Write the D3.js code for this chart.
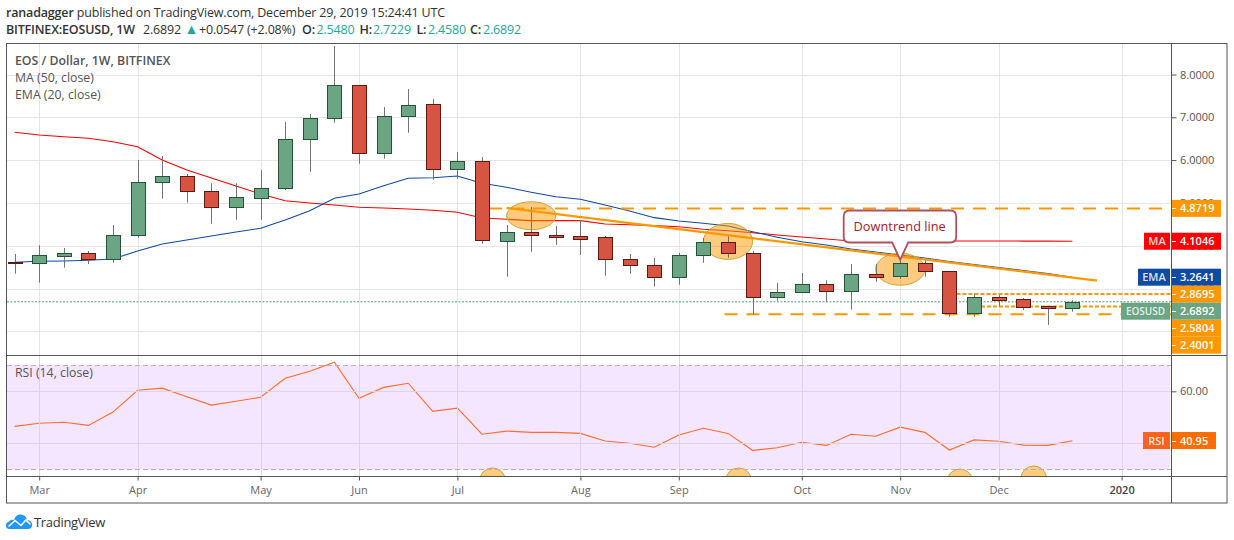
<!DOCTYPE html>
<html><head><meta charset="utf-8">
<script src="https://cdn.jsdelivr.net/npm/d3@7"></script>
<style>
html,body{margin:0;padding:0;background:#fff}
svg{display:block;font-family:"Open Sans",sans-serif}
</style></head><body><svg id="c" width="1234" height="540"></svg>
<script>
// ---------- data ----------
const firstWeek = "2019-02-25", lastWeek = "2019-12-23";
const opens  = [3.613,3.59,3.77,3.823,3.683,4.243,5.482,5.622,5.272,4.898,5.108,5.342,6.486,6.977,7.748,6.159,7.024,7.304,5.785,5.972,4.094,4.31,4.25,4.22,4.197,3.683,3.542,3.262,3.77,4.08,3.823,2.785,2.912,3.099,2.935,3.34,3.276,3.589,3.402,2.412,2.802,2.748,2.58,2.548];
const highs  = [3.807,4.01,3.947,3.877,4.484,6.003,6.096,5.676,5.458,5.458,5.769,6.891,7.077,8.666,7.748,7.241,7.662,7.428,6.19,6.073,4.484,4.905,4.461,4.601,4.227,3.807,3.713,3.83,4.18,4.25,3.877,3.129,3.363,3.192,3.573,3.573,3.69,3.666,3.41,2.879,2.849,2.778,2.59,2.7229];
const lows   = [3.346,3.136,3.486,3.573,3.603,4.187,5.099,5.005,4.514,4.608,4.608,5.302,5.729,6.874,5.916,6.033,6.64,5.542,5.566,4.047,3.276,3.86,4.017,3.783,3.3,3.346,3.043,3.089,3.603,3.72,2.388,2.715,2.902,2.678,2.505,3.159,3.222,3.276,2.342,2.342,2.575,2.498,2.148,2.458];
const closes = [3.596,3.776,3.83,3.673,4.243,5.482,5.622,5.272,4.898,5.131,5.342,6.486,6.977,7.748,6.159,7.024,7.281,5.785,5.972,4.127,4.314,4.25,4.2,4.16,3.683,3.542,3.262,3.776,4.08,3.814,2.785,2.912,3.099,2.935,3.332,3.28,3.589,3.393,2.412,2.795,2.732,2.552,2.53,2.6892];
const maValues  = [6.65,6.587,6.547,6.51,6.43,6.314,6.003,5.769,5.582,5.395,5.208,5.052,4.998,4.951,4.898,4.881,4.858,4.828,4.781,4.648,4.617,4.585,4.585,4.585,4.507,4.491,4.468,4.444,4.384,4.351,4.304,4.25,4.204,4.157,4.11,4.11,4.11,4.11,4.11,4.11,4.11,4.108,4.106,4.1046];
const emaValues = [3.613,3.636,3.643,3.659,3.69,3.877,4.04,4.134,4.227,4.321,4.407,4.601,4.818,5.108,5.208,5.402,5.575,5.589,5.629,5.458,5.365,5.248,5.145,5.085,4.951,4.811,4.655,4.577,4.524,4.461,4.328,4.197,4.094,4.017,3.923,3.853,3.783,3.713,3.631,3.561,3.491,3.421,3.351,3.2641];
const rsiValues = [46.5,47.7,48.1,46.9,52,60.4,61.2,57.9,54.7,56.2,57.7,65,67.7,71.2,57.3,61.5,63.1,52.3,53.5,43.5,44.7,44.2,44.2,43.8,40.9,40,38.5,43.2,45.8,43.8,37.3,38.3,40.4,39.2,43.5,42.7,46.2,44.2,37.4,41.3,40.8,39.3,39.2,40.95];
const monthDates  = ["2019-03-04","2019-04-01","2019-05-06","2019-06-03","2019-07-01","2019-08-05","2019-09-02","2019-10-07","2019-11-04","2019-12-02","2020-01-06"];
const monthLabels = ["Mar","Apr","May","Jun","Jul","Aug","Sep","Oct","Nov","Dec","2020"];
const priceTicks = [8,7,6,5,4,3,2];
const rsiTicks = [60,40];
const rsiBand = [70,30];
const trendDates = ["2019-07-15","2019-12-30"], trendPrices = [4.881,3.183];
const levelPrices = [4.8719,2.8695,2.5804,2.4001];
const levelStarts = ["2019-07-10","2019-11-20","2019-11-27","2019-09-15"];
const lastClose = 2.6892, lastMA = 4.1046, lastEMA = 3.2641, lastRSI = 40.95;
const ellipseDates = ["2019-07-22","2019-09-16","2019-11-04"];
const ellipsePrices = [4.70,4.10,3.45];
const rsiCircleDates = ["2019-07-11","2019-09-19","2019-11-21","2019-12-12"];

// ---------- layout & scales ----------
const parse = d3.utcParse("%Y-%m-%d");
const weeks = d3.utcMonday.range(parse(firstWeek), d3.utcDay.offset(parse(lastWeek),1));
const L=7,R=1171,T=44,MB=355,RB=476,FR=1227,FB=503;
const x = d3.scaleUtc().domain([parse(firstWeek),parse(lastWeek)]).range([14.6,1072.4]);
const y = d3.scaleLinear().domain([2,8]).range([331.3,74.5]);
const yr = d3.scaleLinear().domain([30,70]).range([469.3,365.3]);
const px = v=>Math.round(v)+.5;
const svg = d3.select("#c");
const defs = svg.append("defs");
defs.append("clipPath").attr("id","main").append("rect").attr("x",L).attr("y",T).attr("width",R-L).attr("height",MB-T);
defs.append("clipPath").attr("id","rsi").append("rect").attr("x",L).attr("y",MB+1).attr("width",R-L).attr("height",RB-MB-1);

const GRID="#e6e6e6",GRIDR="#dfd3ea",AX="#555",TXT="#555";
const ORANGE="#ff9800",UP="#6ba583",DOWN="#d75442",UPB="#225437",DOWNB="#5b1a13";
const months = monthDates.map(parse);

// RSI band
const gr = svg.append("g").attr("clip-path","url(#rsi)");
gr.append("rect").attr("x",L).attr("y",yr(70)).attr("width",R-L-1).attr("height",yr(30)-yr(70)).attr("fill","#f4e6fe");

// grids
const grid = svg.append("g");
grid.selectAll("line.v").data(months).join("line").attr("x1",d=>px(x(d))).attr("x2",d=>px(x(d))).attr("y1",T).attr("y2",MB).attr("stroke",GRID);
grid.selectAll("line.vr").data(months).join("line").attr("class","vr").attr("x1",d=>px(x(d))).attr("x2",d=>px(x(d))).attr("y1",MB+1).attr("y2",RB)
  .attr("stroke",d=>x(d)>1100?"#e0d8e8":GRIDR);
grid.selectAll("line.h").data(priceTicks).join("line").attr("class","h").attr("x1",L).attr("x2",R).attr("y1",d=>px(y(d))).attr("y2",d=>px(y(d))).attr("stroke",GRID);
grid.selectAll("line.hr").data(rsiTicks).join("line").attr("class","hr").attr("x1",L).attr("x2",R).attr("y1",d=>px(yr(d))).attr("y2",d=>px(yr(d))).attr("stroke",GRIDR);
grid.selectAll("line.b").data(rsiBand).join("line").attr("class","b").attr("x1",L).attr("x2",R).attr("y1",d=>px(yr(d))).attr("y2",d=>px(yr(d))).attr("stroke","#b9aec2").attr("stroke-dasharray","5 3");

// main pane
const m = svg.append("g").attr("clip-path","url(#main)");
const lineOf = vals => d3.line().x((d,i)=>x(weeks[i])).y(d=>y(d))(vals);
m.append("path").attr("d",lineOf(maValues)).attr("fill","none").attr("stroke","#ff0000").attr("stroke-width",1.1);
m.append("path").attr("d",lineOf(emaValues)).attr("fill","none").attr("stroke","#0f4aa3").attr("stroke-width",1.1);

// highlight ellipses
m.selectAll("ellipse").data(ellipseDates).join("ellipse")
  .attr("cx",d=>x(parse(d))).attr("cy",(d,i)=>y(ellipsePrices[i]))
  .attr("rx",24.6).attr("ry",(d,i)=>[14,18,16][i])
  .attr("fill","rgba(255,152,0,.5)").attr("stroke","#c8a93c").attr("stroke-width",1);

// levels
const dash=["13 9","4 2","4 2","13 9"];
m.selectAll("line.lv").data(levelPrices).join("line").attr("class","lv")
  .attr("x1",(d,i)=>x(parse(levelStarts[i]))).attr("x2",R)
  .attr("y1",d=>y(d)).attr("y2",d=>y(d)).attr("stroke",ORANGE).attr("stroke-width",2).attr("stroke-dasharray",(d,i)=>dash[i]);
// last price
m.append("line").attr("x1",L).attr("x2",R).attr("y1",y(lastClose)).attr("y2",y(lastClose)).attr("stroke","#4f9e78").attr("stroke-dasharray","2 1.5");

// candles
const idx = d3.range(weeks.length);
m.selectAll("line.w").data(idx).join("line").attr("class","w")
  .attr("x1",i=>px(x(weeks[i]))).attr("x2",i=>px(x(weeks[i]))).attr("y1",i=>y(highs[i])).attr("y2",i=>y(lows[i])).attr("stroke","#737375");
m.selectAll("rect.b").data(idx).join("rect").attr("class","b")
  .attr("x",i=>Math.round(x(weeks[i]))-6.5).attr("width",14)
  .attr("y",i=>Math.round(y(Math.max(opens[i],closes[i])))+.5)
  .attr("height",i=>Math.max(1,Math.round(Math.abs(y(opens[i])-y(closes[i])))))
  .attr("fill",i=>closes[i]>=opens[i]?UP:DOWN)
  .attr("stroke",i=>closes[i]>=opens[i]?UPB:DOWNB);

// trend line
m.append("line").attr("x1",x(parse(trendDates[0]))).attr("x2",x(parse(trendDates[1]))).attr("y1",y(trendPrices[0])).attr("y2",y(trendPrices[1])).attr("stroke",ORANGE).attr("stroke-width",2.3);

// callout
const cx=x(parse("2019-11-04")), tip=y(3.67);
m.append("path").attr("d",`M${cx-50.5},210.5 H${cx+50} q6,0 6,6 V236.5 q0,6 -6,6 H${cx+8} L${cx},${tip} L${cx-8},242.5 H${cx-50.5} q-6,0 -6,-6 V216.5 q0,-6 6,-6 Z`)
  .attr("fill","#fff").attr("stroke","#b0505e").attr("stroke-width",1.8);
m.append("text").attr("x",cx-.5).attr("y",230.5).attr("text-anchor","middle").attr("font-size",12.8).attr("fill","#a5202f").text("Downtrend line");

// RSI line & circles
gr.selectAll("circle").data(rsiCircleDates).join("circle")
  .attr("cx",d=>x(parse(d))).attr("cy",(d,i)=>[481,481,482,479][i]).attr("r",13)
  .attr("fill","#ffcc80").attr("stroke","#c8a93c");
gr.append("path").attr("d",d3.line().x((d,i)=>x(weeks[i])).y(d=>yr(d))(rsiValues)).attr("fill","none").attr("stroke","#ff6d2e").attr("stroke-width",1.1);

// frame
svg.append("rect").attr("x",6.5).attr("y",43.5).attr("width",FR-6.5).attr("height",FB-43.5).attr("fill","none").attr("stroke",AX);
svg.append("line").attr("x1",R+.5).attr("x2",R+.5).attr("y1",43.5).attr("y2",FB).attr("stroke",AX);
svg.append("line").attr("x1",6.5).attr("x2",FR).attr("y1",MB+.5).attr("y2",MB+.5).attr("stroke",AX);
svg.append("line").attr("x1",6.5).attr("x2",FR).attr("y1",RB+.5).attr("y2",RB+.5).attr("stroke",AX);

// axes
function styleAxis(g,size,fill){g.select(".domain").remove();g.selectAll("line").attr("stroke",AX);g.selectAll("text").attr("fill",fill||TXT).attr("font-size",size);}
svg.append("g").attr("transform",`translate(${R+.5},0)`).call(d3.axisRight(y).tickValues(priceTicks).tickFormat(d3.format(".4f")).tickSize(5).tickPadding(3.5)).call(styleAxis,11).attr("font-family",null);
svg.append("g").attr("transform",`translate(${R+.5},0)`).call(d3.axisRight(yr).tickValues([60]).tickFormat(d3.format(".2f")).tickSize(5).tickPadding(3.5)).call(styleAxis,11).attr("font-family",null);
svg.append("g").attr("transform",`translate(0,${RB+.5})`).call(d3.axisBottom(x).tickValues(months).tickFormat((d,i)=>monthLabels[i]).tickSize(4).tickPadding(6)).call(styleAxis,11,"#666").attr("font-family",null)
  .call(g=>g.selectAll("text").filter((d,i)=>monthLabels[i]==="2020").attr("fill","#444").attr("font-weight",600));

// price tags: stacked downward when they would overlap
const tags=[
 {v:levelPrices[0],t:levelPrices[0].toFixed(4),c:ORANGE},
 {v:lastMA,t:lastMA.toFixed(4),c:"#ff0000",n:"MA",w:27},
 {v:lastEMA,t:lastEMA.toFixed(4),c:"#0f4aa3",n:"EMA",w:33},
 {v:levelPrices[1],t:levelPrices[1].toFixed(4),c:ORANGE},
 {v:lastClose,t:lastClose.toFixed(4),c:UP,n:"EOSUSD",w:50},
 {v:levelPrices[2],t:levelPrices[2].toFixed(4),c:ORANGE},
 {v:levelPrices[3],t:levelPrices[3].toFixed(4),c:ORANGE}];
let prev=-1e9;
tags.forEach(d=>{d.y=Math.max(y(d.v),prev+17);prev=d.y;});
function drawTag(d,scaleW){
  const g=svg.append("g");
  g.append("rect").attr("x",R+1).attr("y",d.y-8.5).attr("width",scaleW).attr("height",17).attr("fill",d.c);
  g.append("line").attr("x1",R+1).attr("x2",R+5).attr("y1",px(d.y)).attr("y2",px(d.y)).attr("stroke","#fff");
  g.append("text").attr("x",R+9).attr("y",d.y+4).attr("fill","#fff").attr("font-size",11).attr("font-weight",600).text(d.t);
  if(d.n){
    g.append("rect").attr("x",R-d.w).attr("y",d.y-8.5).attr("width",d.w-1).attr("height",17).attr("fill",d.lc||d.c);
    g.append("text").attr("x",R-1-(d.w-1)/2).attr("y",d.y+4).attr("text-anchor","middle").attr("fill","#fff").attr("fill-opacity",.85).attr("font-size",d.n=="EOSUSD"?10:11).attr("font-weight",600).text(d.n);
  }
}
tags.forEach(d=>drawTag(d,49));
drawTag({y:yr(lastRSI)-.3,t:lastRSI.toFixed(2),c:"#ff6d00",lc:"#f9631a",n:"RSI",w:28},44);

// legends
const leg=svg.append("g").attr("fill",TXT).attr("font-size",12.3);
leg.append("text").attr("x",15).attr("y",64.5).attr("font-weight",600).text("EOS / Dollar, 1W, BITFINEX");
leg.append("text").attr("x",15).attr("y",81.5).text("MA (50, close)");
leg.append("text").attr("x",15).attr("y",98.5).text("EMA (20, close)");
leg.append("text").attr("x",15).attr("y",376.5).text("RSI (14, close)");

// header
const hs=12.5;
const h1=svg.append("text").attr("x",6).attr("y",17).attr("font-size",hs).attr("letter-spacing",-.17).attr("fill","#333");
h1.append("tspan").attr("font-weight",600).text("ranadagger");
h1.append("tspan").text(" published on TradingView.com, December 29, 2019 15:24:41 UTC");
const h2=svg.append("g").attr("font-size",hs).attr("letter-spacing",-.17).attr("fill","#333");
const seg=(xp,t,o={})=>h2.append("text").attr("x",xp).attr("y",34).attr("font-weight",o.b?600:400).attr("fill",o.c||"#333").attr("font-size",o.s||hs).text(t);
seg(6,"BITFINEX:EOSUSD, 1W",{b:1});
seg(143,"2.6892");
seg(184.5,"▲",{c:"#26a69a",s:14});
seg(199,"+0.0547 (+2.08%)");
[[302,"O:",316.5,"2.5480"],[359.5,"H:",373,"2.7229"],[416.5,"L:",428,"2.4580"],[470,"C:",483,"2.6892"]].forEach(p=>{
  seg(p[0],p[1],{b:1});seg(p[2],p[3],{c:"#26a69a"});
});

// logo
const lg=svg.append("g");
lg.append("path").attr("d","M9.5,529 C5,529 4.5,523 9,521.5 C10,520 12,519.5 14,520 C15,516 18,514 21,514.5 C24.5,515 26.5,517 27,520 C31,520.5 33,523.5 32,526 C31.5,528 30,529 28,529 Z").attr("fill","#2196f3");
lg.append("path").attr("d","M8.5,526.5 L15,520.5 L21,525.5 L26,520 L30.5,524.5").attr("fill","none").attr("stroke","#fff").attr("stroke-width",1.6);
svg.append("text").attr("x",34).attr("y",526.5).attr("font-size",13).attr("letter-spacing",-.3).attr("fill","#333").text("TradingView");
</script></body></html>
